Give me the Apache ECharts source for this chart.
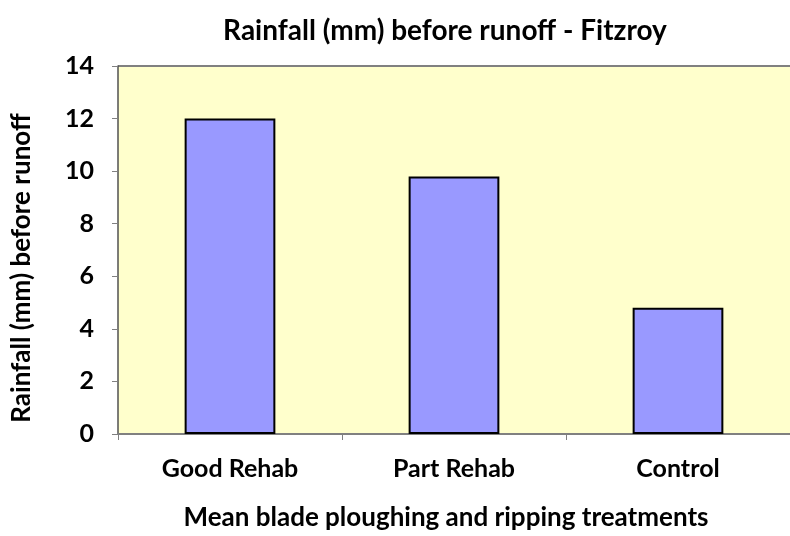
<!DOCTYPE html>
<html><head><meta charset="utf-8">
<script src="https://cdn.jsdelivr.net/npm/echarts@6/dist/echarts.min.js"></script>
<style>html,body{margin:0;padding:0;background:#fff}#c{width:790px;height:536px}</style>
</head><body><div id="c"></div>
<script>
const categories = ["Good Rehab", "Part Rehab", "Control"];
const rainfall = [12.0, 9.8, 4.8];
const yTicks = [0, 2, 4, 6, 8, 10, 12, 14];

const FONT = "Lato";
const chart = echarts.init(document.getElementById('c'), null, {renderer: 'canvas'});
chart.setOption({
  animation: false,
  backgroundColor: '#ffffff',
  title: {
    text: 'Rainfall (mm) before runoff - Fitzroy',
    left: 440, top: 12, textAlign: 'center',
    textStyle: {fontFamily: FONT, fontWeight: 'bold', fontSize: 28, color: '#000'}
  },
  grid: {left: 118, top: 66, width: 681, height: 373, backgroundColor: '#FFFFCC', show: true, borderWidth: 0},
  xAxis: {
    type: 'category', data: categories,
    name: 'Mean blade ploughing and ripping treatments',
    nameLocation: 'middle', nameGap: 71,
    nameTextStyle: {fontFamily: FONT, fontWeight: 'bold', fontSize: 26, color: '#000', padding: [0, 16, 0, 0]},
    axisLine: {lineStyle: {color: '#808080', width: 2}},
    axisTick: {show: true, length: 6, alignWithLabel: false, lineStyle: {color: '#808080'}},
    axisLabel: {fontFamily: FONT, fontWeight: 'bold', fontSize: 25, color: '#000', margin: 22}
  },
  yAxis: {
    type: 'value', min: 0, max: 14, interval: 2,
    name: 'Rainfall (mm) before runoff',
    nameLocation: 'middle', nameGap: 83, nameRotate: 90,
    nameTextStyle: {fontFamily: FONT, fontWeight: 'bold', fontSize: 26, color: '#000', padding: [0, 36, 0, 0]},
    axisLine: {show: true, lineStyle: {color: '#505050', width: 1.5}},
    axisTick: {show: true, length: 6, lineStyle: {color: '#808080'}},
    splitLine: {show: false},
    axisLabel: {fontFamily: FONT, fontWeight: 'bold', fontSize: 25, color: '#000', margin: 24,
      formatter: v => yTicks.includes(v) ? String(v) : ''}
  },
  series: [{
    type: 'bar', data: rainfall, barWidth: '40.5%',
    itemStyle: {color: '#9999FF', borderColor: '#000', borderWidth: 2}
  }]
});
chart.setOption({
  graphic: [{type: 'line', shape: {x1: 118, y1: 66, x2: 790, y2: 66}, style: {stroke: '#808080', lineWidth: 2}}]
});
</script></body></html>
